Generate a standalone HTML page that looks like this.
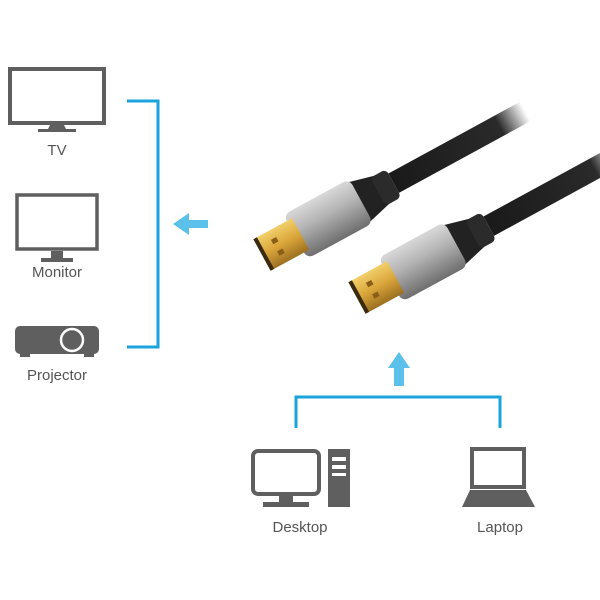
<!DOCTYPE html>
<html><head><meta charset="utf-8"><style>
html,body{margin:0;padding:0;background:#fff;width:600px;height:600px;overflow:hidden}
svg{display:block}
text{font-family:"Liberation Sans",sans-serif;fill:#555;font-size:15px;text-anchor:middle}
</style></head><body>
<svg width="600" height="600" viewBox="0 0 600 600" xmlns="http://www.w3.org/2000/svg">
<defs>
<linearGradient id="silver" x1="0" y1="0" x2="0" y2="1">
<stop offset="0" stop-color="#d8d8d8"/><stop offset="0.4" stop-color="#b5b5b5"/><stop offset="1" stop-color="#6e6e6e"/></linearGradient>
<linearGradient id="gold" x1="0" y1="0" x2="0" y2="1">
<stop offset="0" stop-color="#f2cf6a"/><stop offset="0.5" stop-color="#d9a53a"/><stop offset="1" stop-color="#9c7020"/></linearGradient>
<linearGradient id="cable" x1="0" y1="0" x2="1" y2="0">
<stop offset="0" stop-color="#1a1a1a"/><stop offset="0.8" stop-color="#2a2a2a"/><stop offset="1" stop-color="#2a2a2a" stop-opacity="0"/></linearGradient>
<g id="conn">
<rect x="150" y="-11" width="150" height="22" fill="url(#cable)"/>
<path d="M105,-24 L140,-15 L140,15 L105,24 Z" fill="#222"/>
<rect x="132" y="-16" width="18" height="32" rx="5" fill="#2b2b2b"/>
<rect x="38" y="-25" width="75" height="50" rx="7" fill="url(#silver)"/>
<rect x="0" y="-18" width="44" height="36" fill="url(#gold)"/>
<rect x="0" y="-18" width="4" height="36" fill="#3a2a10"/>
<rect x="15" y="-9" width="6" height="5" fill="#8a5e18"/><rect x="15" y="4" width="6" height="5" fill="#8a5e18"/>
</g>
</defs>

<!-- TV -->
<rect x="10" y="69" width="94" height="54" fill="none" stroke="#5f5f5f" stroke-width="4"/>
<path d="M50,125 L64,125 L66,129 L76,129 L76,132 L38,132 L38,129 L48,129 Z" fill="#5f5f5f"/>
<text x="57" y="155">TV</text>
<!-- Monitor -->
<rect x="17" y="195" width="80" height="54" fill="none" stroke="#5f5f5f" stroke-width="3.5"/>
<rect x="51" y="251" width="12" height="8" fill="#5f5f5f"/>
<rect x="41" y="258" width="32" height="4" fill="#5f5f5f"/>
<text x="57" y="277">Monitor</text>
<!-- Projector -->
<rect x="15" y="326" width="84" height="28" rx="5" fill="#5f5f5f"/>
<rect x="20" y="353" width="10" height="4" fill="#5f5f5f"/><rect x="84" y="353" width="10" height="4" fill="#5f5f5f"/>
<circle cx="72" cy="340" r="11" fill="#5f5f5f" stroke="#fff" stroke-width="2.5"/>
<text x="57" y="380">Projector</text>

<!-- left bracket -->
<path d="M127,101 H158 V347 H127" fill="none" stroke="#1ba3dc" stroke-width="3"/>
<path d="M173,224 L189,213 L189,220 L208,220 L208,228 L189,228 L189,235 Z" fill="#5bc0ea"/>

<!-- cables -->
<g transform="translate(262,255) rotate(-28.6)"><use href="#conn"/></g>
<g transform="translate(357,298) rotate(-28.6)"><use href="#conn"/></g>

<!-- bottom arrow & bracket -->
<path d="M399,352 L410,368 L404,368 L404,386 L394,386 L394,368 L388,368 Z" fill="#5bc0ea"/>
<path d="M296,428 V397 H500 V428" fill="none" stroke="#1ba3dc" stroke-width="3"/>

<!-- Desktop -->
<rect x="253" y="451" width="66" height="43" rx="5" fill="none" stroke="#5f5f5f" stroke-width="4"/>
<rect x="279" y="496" width="14" height="7" fill="#5f5f5f"/>
<rect x="263" y="502" width="46" height="5" fill="#5f5f5f"/>
<rect x="328" y="449" width="22" height="58" fill="#5f5f5f"/>
<rect x="332" y="457" width="14" height="4" fill="#fff"/><rect x="332" y="465" width="14" height="4" fill="#fff"/><rect x="332" y="473" width="14" height="3" fill="#fff"/>
<text x="300" y="532">Desktop</text>
<!-- Laptop -->
<rect x="472" y="449" width="52" height="38" fill="none" stroke="#5f5f5f" stroke-width="4"/>
<path d="M470,490 L526,490 L535,507 L462,507 Z" fill="#5f5f5f"/>
<text x="500" y="532">Laptop</text>
</svg>
</body></html>
